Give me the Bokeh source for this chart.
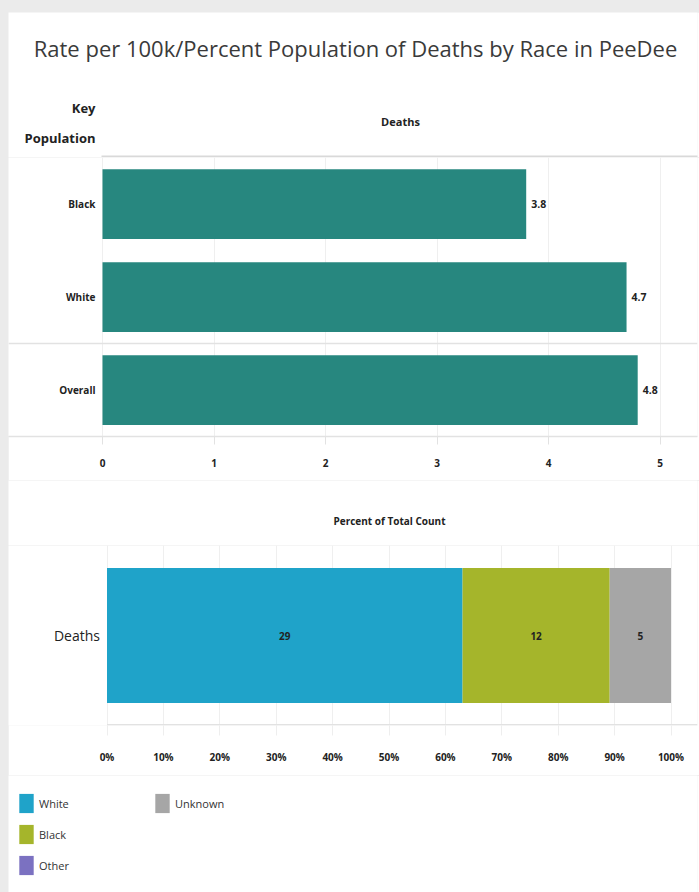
from bokeh.plotting import figure
from bokeh.models import (ColumnDataSource, FactorRange, Range1d, FixedTicker, NumeralTickFormatter,
                          LabelSet, Label, Span, BoxAnnotation, Legend, LegendItem, GlobalInlineStyleSheet)
from bokeh.core.properties import value
from bokeh.layouts import column
from bokeh.embed import file_html
from bokeh.resources import INLINE

# ---------------- data ----------------
title_text = "Rate per 100k/Percent Population of Deaths by Race in PeeDee"
rate_groups = ["Black", "White", "Overall"]
rate_values = [3.8, 4.7, 4.8]
rate_ticks = [0, 1, 2, 3, 4, 5]

race_names = ["White", "Black", "Other", "Unknown"]
race_counts = [29, 12, 0, 5]
race_colors = ["#1fa3c9", "#a5b52b", "#7b71c1", "#a6a6a6"]
pct_ticks = [0, 0.1, 0.2, 0.3, 0.4, 0.5, 0.6, 0.7, 0.8, 0.9, 1.0]
count_row = ["Deaths"]

FONT = "Open Sans"
TEAL = "#27877f"
GRID = "#efefef"
SEP = "#e2e2e2"
DARK = "#222222"
W = 691
RB = 2  # right border shared by every figure (column aligns frames)


def canvas(height, y_range=None):
    c = figure(width=W, height=height, output_backend="svg", toolbar_location=None,
               x_range=Range1d(0, 1), y_range=y_range if y_range is not None else Range1d(0, 1),
               x_axis_location=None, y_axis_location=None,
               min_border_left=0, min_border_right=RB, min_border_top=0, min_border_bottom=0)
    c.outline_line_color = None
    c.xgrid.visible = False
    c.ygrid.visible = False
    c.border_fill_color = "white"
    return c


def text_label(fig, x, y, text, size, bold=False, align="center", color=DARK):
    fig.add_layout(Label(x=x, y=y, x_units="screen", y_units="screen", text=text,
                         text_align=align, text_baseline="middle", text_font=FONT,
                         text_font_size=size, text_font_style="bold" if bold else "normal",
                         text_color=color))


def style_xaxis(ax, tick_out, standoff):
    ax.major_tick_out = tick_out
    ax.major_tick_in = 0
    ax.minor_tick_line_color = None
    ax.major_label_standoff = standoff
    ax.major_label_text_font = FONT
    ax.major_label_text_font_size = "10px"
    ax.major_label_text_font_style = "bold"
    ax.major_label_text_color = DARK


# ---------------- header ----------------
head = canvas(145)
text_label(head, 347, 110, title_text, "22px", color="#3a3a3a")
text_label(head, 87, 50, "Key", "13px", bold=True, align="right")
text_label(head, 87, 20, "Population", "13px", bold=True, align="right")
text_label(head, 392, 36, "Deaths", "11px", bold=True)
head.add_layout(BoxAnnotation(left=93, right=W, bottom=0, top=2, left_units="screen", right_units="screen",
                              top_units="screen", bottom_units="screen",
                              fill_color="#d9d9d9", fill_alpha=1, line_color=None))

# ---------------- top chart ----------------
frame_w = W - RB
px_unit_top = 111.5
zero_top = 94
x0_top = -zero_top / px_unit_top
x1_top = (frame_w - zero_top) / px_unit_top

top = figure(width=W, height=323, output_backend="svg", toolbar_location=None,
             y_range=FactorRange(*reversed(rate_groups), range_padding=0, factor_padding=0),
             x_range=Range1d(x0_top, x1_top), y_axis_location=None,
             min_border_left=0, min_border_right=RB, min_border_top=0, min_border_bottom=44)
top.outline_line_color = None
top.border_fill_color = "white"

src_top = ColumnDataSource(dict(g=rate_groups, v=rate_values, t=[f"{v:.1f}" for v in rate_values]))
top.hbar(y="g", right="v", left=0, height=0.75, source=src_top, fill_color=TEAL, line_color=None)
top.add_layout(LabelSet(x="v", y="g", text="t", source=src_top, x_offset=5, text_baseline="middle",
                        text_font=value(FONT), text_font_size=value("10.5px"),
                        text_font_style=value("bold"), text_color=value(DARK)))
top.add_layout(LabelSet(x=zero_top - 7, x_units="screen", y="g", text="g", source=src_top,
                        text_align="right", text_baseline="middle",
                        text_font=value(FONT), text_font_size=value("10px"),
                        text_font_style=value("bold"), text_color=value(DARK)))

top.xaxis.ticker = FixedTicker(ticks=rate_ticks)
top.xaxis.axis_line_color = SEP
top.xaxis.axis_line_width = 1.5
top.xaxis.major_tick_line_color = SEP
style_xaxis(top.xaxis, 8, 14)
top.xgrid.grid_line_color = GRID
top.ygrid.grid_line_color = None
top.add_layout(Span(location=1, dimension="width", line_color=SEP, line_width=1.5))

# ---------------- middle header ----------------
mid = canvas(65)
text_label(mid, 381, 25, "Percent of Total Count", "10px", bold=True)

# ---------------- bottom chart ----------------
px_unit_bot = 564.0
zero_bot = 98.5
x0_bot = -zero_bot / px_unit_bot
x1_bot = (frame_w - zero_bot) / px_unit_bot

total = sum(race_counts)
pcts = [c / total for c in race_counts]
data = {"y": count_row}
for n, p_ in zip(race_names, pcts):
    data[n] = [p_]
src_bot = ColumnDataSource(data)

bot = figure(width=W, height=230, output_backend="svg", toolbar_location=None,
             y_range=FactorRange(*count_row, range_padding=0, factor_padding=0),
             x_range=Range1d(x0_bot, x1_bot), y_axis_location=None,
             min_border_left=0, min_border_right=RB, min_border_top=0, min_border_bottom=50)
bot.outline_line_color = None
bot.border_fill_color = "white"

bot.hbar_stack(race_names, y="y", height=0.75, color=race_colors, line_color=None, source=src_bot)

mids, labs = [], []
cum = 0
for c, p_ in zip(race_counts, pcts):
    if c > 0:
        mids.append(cum + p_ / 2)
        labs.append(str(c))
    cum += p_
src_lab = ColumnDataSource(dict(x=mids, y=count_row * len(mids), t=labs))
bot.add_layout(LabelSet(x="x", y="y", text="t", source=src_lab, text_align="center", text_baseline="middle",
                        text_font=value(FONT), text_font_size=value("10px"),
                        text_font_style=value("bold"), text_color=value(DARK)))
src_row = ColumnDataSource(dict(y=count_row))
bot.add_layout(LabelSet(x=zero_bot - 7, x_units="screen", y="y", text="y", source=src_row,
                        text_align="right", text_baseline="middle",
                        text_font=value(FONT), text_font_size=value("14px"),
                        text_color=value(DARK)))

bot.xaxis.ticker = FixedTicker(ticks=pct_ticks)
bot.xaxis.formatter = NumeralTickFormatter(format="0%")
bot.xaxis.axis_line_color = None
bot.xaxis.major_tick_line_color = "#eeeeee"
style_xaxis(bot.xaxis, 10, 14)
bot.xgrid.grid_line_color = GRID
bot.ygrid.grid_line_color = None
bot.add_layout(BoxAnnotation(left=0, right=x1_bot, bottom=0, top=1.5, bottom_units="screen", top_units="screen",
                             fill_color=SEP, fill_alpha=1, line_color=None))

# ---------------- legend ----------------
leg = canvas(117, y_range=FactorRange(*race_names))
leg_rends = []
for n, p_, col in zip(race_names, pcts, race_colors):
    r = leg.hbar(y=[n], right=[p_], height=0.5, fill_color=col, line_color=None)
    r.visible = False
    leg_rends.append(r)
legend = Legend(items=[LegendItem(label=n, renderers=[r]) for n, r in zip(race_names, leg_rends)],
                location=(9, 15), orientation="vertical", nrows=3,
                glyph_width=18, glyph_height=24, label_height=24, label_width=107,
                spacing=7, label_standoff=4, padding=0, margin=0,
                border_line_color=None, background_fill_alpha=0,
                inactive_fill_alpha=0,
                label_text_font=FONT, label_text_font_size="11px", label_text_color="#333333")
leg.add_layout(legend)

layout = column(head, top, mid, bot, leg, width=W, spacing=0,
                stylesheets=[GlobalInlineStyleSheet(
                    css="html {background:#ebebeb !important;} "
                        "body {background:#ebebeb !important; margin:0 !important; "
                        "padding:12px 0 0 8px !important; overflow:hidden;}")])

open("out.html", "w").write(file_html(layout, INLINE))
